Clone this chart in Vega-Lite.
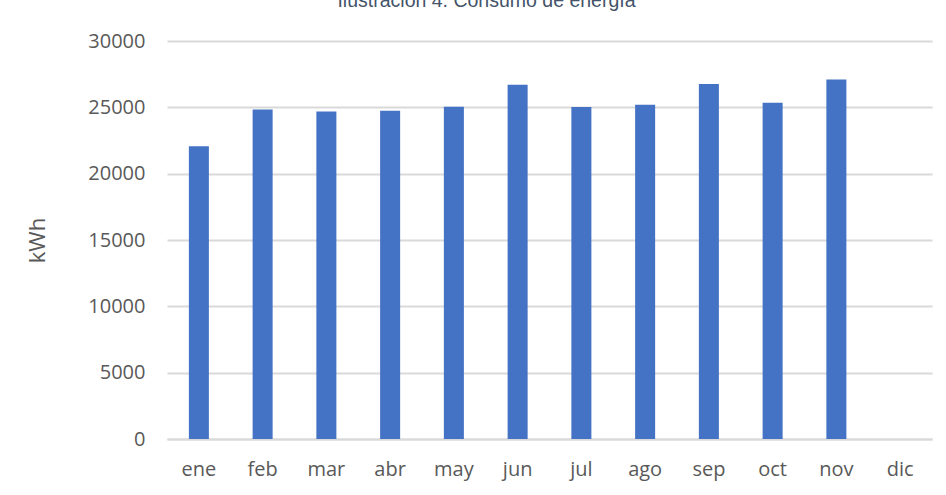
{
  "$schema": "https://vega.github.io/schema/vega-lite/v6.json",
  "autosize": {"type": "none"},
  "width": 765,
  "height": 398,
  "padding": {"left": 167, "top": 41, "right": 14, "bottom": 56},
  "background": "white",
  "title": {
    "text": "Ilustración 4. Consumo de energía",
    "font": "Liberation Sans",
    "fontSize": 19.5,
    "fontWeight": "normal",
    "color": "#44546A",
    "anchor": "middle",
    "frame": "group",
    "baseline": "alphabetic",
    "dx": -63,
    "offset": 5
  },
  "data": {
    "values": [
      {"mes": "ene", "kWh": 22070},
      {"mes": "feb", "kWh": 24830},
      {"mes": "mar", "kWh": 24680},
      {"mes": "abr", "kWh": 24750},
      {"mes": "may", "kWh": 25050},
      {"mes": "jun", "kWh": 26710},
      {"mes": "jul", "kWh": 25020},
      {"mes": "ago", "kWh": 25200},
      {"mes": "sep", "kWh": 26760},
      {"mes": "oct", "kWh": 25350},
      {"mes": "nov", "kWh": 27090}
    ]
  },
  "mark": {"type": "bar", "color": "#4472C4", "width": {"band": 0.314}},
  "encoding": {
    "x": {
      "field": "mes",
      "type": "nominal",
      "sort": null,
      "scale": {
        "domain": ["ene", "feb", "mar", "abr", "may", "jun", "jul", "ago", "sep", "oct", "nov", "dic"],
        "paddingInner": 0,
        "paddingOuter": 0
      },
      "axis": {
        "title": null,
        "labelAngle": 0,
        "labelFont": "Open Sans",
        "labelFontSize": 20,
        "labelColor": "#595959",
        "labelPadding": 20,
        "ticks": false,
        "domain": true,
        "domainColor": "#D9D9D9",
        "domainWidth": 2,
        "grid": false
      }
    },
    "y": {
      "field": "kWh",
      "type": "quantitative",
      "scale": {"domain": [0, 30000], "nice": false},
      "axis": {
        "title": "kWh",
        "titleFont": "Open Sans",
        "titleFontSize": 22,
        "titleFontWeight": "normal",
        "titleColor": "#595959",
        "titlePadding": 38,
        "values": [0, 5000, 10000, 15000, 20000, 25000, 30000],
        "format": "d",
        "labelFont": "Open Sans",
        "labelFontSize": 20,
        "labelColor": "#595959",
        "labelPadding": 22,
        "ticks": false,
        "domain": false,
        "grid": true,
        "gridColor": "#D9D9D9",
        "gridWidth": 2
      }
    }
  },
  "config": {"view": {"stroke": null}}
}
